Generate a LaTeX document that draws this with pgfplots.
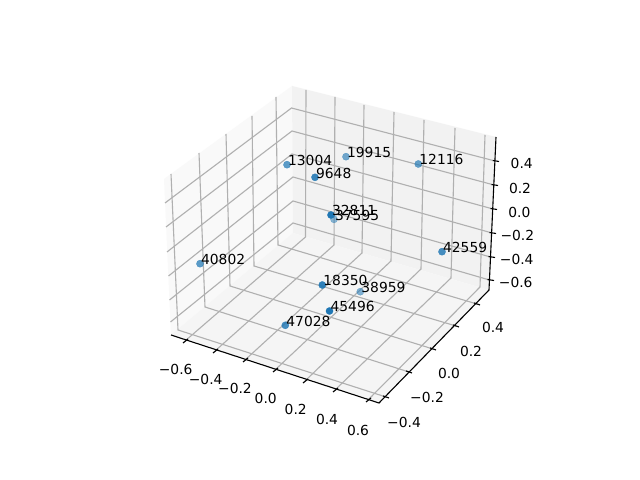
\documentclass[border=0pt]{standalone}
\usepackage{pgfplots}
\pgfplotsset{compat=1.18}
\usepackage{fontspec}
\setmainfont{DejaVu Sans}
\definecolor{gridc}{HTML}{B0B0B0}
\definecolor{mplblue}{HTML}{1F77B4}
\pgfplotsset{pt/.style={
  only marks, mark=*, mark size=2.6pt, mplblue,
  mark options={draw=mplblue, fill=mplblue, line width=0.2pt, opacity=#1},
}}
\begin{document}
\begin{tikzpicture}
\begin{axis}[
  scale only axis, width=6.4in, height=4.8in,
  xmin=0, xmax=640, ymin=0, ymax=480, y dir=reverse,
  hide axis, clip=false, unbounded coords=jump,
  every axis plot/.append style={line cap=butt},
]
% background and panes
\addplot[fill=white, draw=none] coordinates {(0,0)(640,0)(640,480)(0,480)(0,0)};
\addplot[fill={rgb,255:red,249;green,249;blue,249}, draw=none] coordinates {(171,335)(293,233)(292,86)(164,179)(171,335)};
\addplot[fill={rgb,255:red,242;green,242;blue,242}, draw=none] coordinates {(293,233)(489,290)(496,137)(292,86)(293,233)};
\addplot[fill={rgb,255:red,245;green,245;blue,245}, draw=none] coordinates {(171,335)(379,403)(489,290)(293,233)(171,335)};
% grid: x lines on floor and back wall
\addplot[gridc, line width=0.8pt, mark=none] coordinates {
(185,341)(305.5,237)(306,90) (nan,nan)
(215,351)(334,245)(335,97) (nan,nan)
(245,360)(362,253)(364,105) (nan,nan)
(275,370)(391,261)(394,112) (nan,nan)
(305,381)(421,269)(424,120) (nan,nan)
(335,390)(451,278)(455,128) (nan,nan)
(368,400)(480,287)(485,135)
};
% grid: y lines on floor and left wall
\addplot[gridc, line width=0.8pt, mark=none] coordinates {
(386,397)(178,330)(171,174) (nan,nan)
(409,372)(205,307)(199,153) (nan,nan)
(433,349)(230,286)(226,134) (nan,nan)
(456,326)(254,266)(252,116) (nan,nan)
(477,304)(278,245)(276,97)
};
% grid: z lines on left and back walls
\addplot[gridc, line width=0.8pt, mark=none] coordinates {
(165,203)(291.5,108)(495,161) (nan,nan)
(166,227)(292,131)(494,185) (nan,nan)
(167,252)(292,154)(493,209) (nan,nan)
(168.5,276)(293,177)(492,233) (nan,nan)
(169.5,300)(293,201)(490.5,257) (nan,nan)
(170.5,322)(293,223)(489.5,280)
};
% axis lines
\addplot[black, line width=0.8pt, mark=none] coordinates {(171,335)(379,403)(489,290)(496,137)};
% ticks
\addplot[black, line width=0.8pt, mark=none] coordinates {
(183,343)(188,339) (nan,nan)
(213,353)(218,349) (nan,nan)
(243,362)(248,358) (nan,nan)
(273,372)(278,368) (nan,nan)
(303,383)(308,379) (nan,nan)
(333,392)(338,388) (nan,nan)
(366,402)(371,398) (nan,nan)
(383,396)(389,398) (nan,nan)
(406,371)(412,373) (nan,nan)
(430,348)(436,350) (nan,nan)
(453,325)(459,327) (nan,nan)
(474,303)(480,305) (nan,nan)
(492.8,160.5)(499,161.5) (nan,nan)
(491.5,184.5)(498,185.5) (nan,nan)
(490.5,208.5)(497,209.5) (nan,nan)
(489.5,232.5)(496,233.5) (nan,nan)
(488.5,256.5)(495,257.5) (nan,nan)
(487.5,279.5)(494,280.5)
};
% points, each with its depth-shaded opacity
\addplot[pt=0.72] coordinates {(287.0,164.7)};
\addplot[pt=0.88] coordinates {(315.0,177.3)};
\addplot[pt=0.62] coordinates {(346.0,156.7)};
\addplot[pt=0.68] coordinates {(418.3,164.0)};
\addplot[pt=0.50] coordinates {(334.0,219.3)};
\addplot[pt=1.00] coordinates {(331.0,215.0)};
\addplot[pt=0.72] coordinates {(200.0,263.7)};
\addplot[pt=0.92] coordinates {(322.3,285.0)};
\addplot[pt=0.82] coordinates {(285.3,325.3)};
\addplot[pt=1.00] coordinates {(329.5,311.0)};
\addplot[pt=0.55] coordinates {(360.3,291.7)};
\addplot[pt=0.82] coordinates {(442.0,251.7)};
% point labels
\addplot[
  only marks, mark=none,
  point meta=explicit symbolic,
  nodes near coords,
  every node near coord/.append style={anchor=base west, inner sep=0pt, xshift=0.6pt, yshift=-0.6pt, font=\fontsize{10}{12}\selectfont, text=black, opacity=1},
] coordinates {
(287.0,164.7) [13004]
(315.0,177.3) [9648]
(346.0,156.7) [19915]
(418.3,164.0) [12116]
(331.0,215.0) [32811]
(334.0,219.3) [37595]
(200.0,263.7) [40802]
(322.3,285.0) [18350]
(285.3,325.3) [47028]
(329.5,311.0) [45496]
(360.3,291.7) [38959]
(442.0,251.7) [42559]
};
% tick labels
\begin{scope}[every node/.style={font=\fontsize{10}{12}\selectfont, inner sep=0pt, anchor=center}]
\node at (axis cs:175.7,369) {−0.6};
\node at (axis cs:205.7,379) {−0.4};
\node at (axis cs:235,388) {−0.2};
\node at (axis cs:265.7,398) {0.0};
\node at (axis cs:295.7,409) {0.2};
\node at (axis cs:327,419) {0.4};
\node at (axis cs:358,430) {0.6};
\node at (axis cs:404,422) {−0.4};
\node at (axis cs:427,397) {−0.2};
\node at (axis cs:449,373) {0.0};
\node at (axis cs:471,351) {0.2};
\node at (axis cs:493,327) {0.4};
\node at (axis cs:521.7,163.3) {0.4};
\node at (axis cs:520,188) {0.2};
\node at (axis cs:519.3,212) {0.0};
\node at (axis cs:517.3,235.7) {−0.2};
\node at (axis cs:516.7,259) {−0.4};
\node at (axis cs:515.7,282) {−0.6};
\end{scope}
\end{axis}
\end{tikzpicture}
\end{document}
